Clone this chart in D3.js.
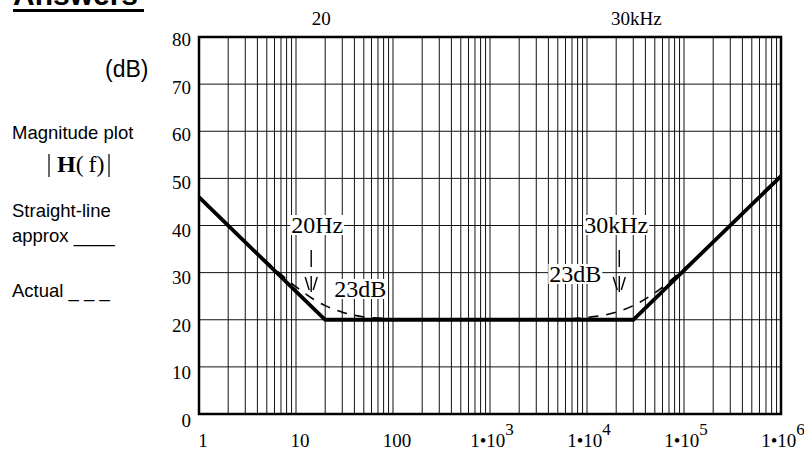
<!DOCTYPE html>
<html>
<head>
<meta charset="utf-8">
<script src="https://cdn.jsdelivr.net/npm/d3@7"></script>
<style>
    body { margin: 0; background: #fff; }
    svg { display: block; }
    .serif { font-family: "Liberation Serif", "Times New Roman", serif; fill: #000; }
    .sans { font-family: "Liberation Sans", Arial, sans-serif; fill: #000; }
</style>
</head>
<body>
<svg id="chart" width="804" height="451"></svg>
<script>
// straight-line (asymptotic) approximation, corners at 20 Hz and 30 kHz
const straightFreq = [1, 20, 30000, 1000000];
const straightDb = [46, 20, 20, 50.5];

// actual response
const actualFreq = [1, 2, 5, 10, 15, 20, 30, 50, 100, 300, 1000, 3000, 10000, 20000, 30000, 50000, 100000, 300000, 1000000];
const actualDb = [46, 40, 32.3, 27, 24.4, 23, 21.6, 20.6, 20.2, 20, 20, 20, 20.5, 21.6, 23, 25.7, 30.8, 40, 50.5];

const yTicks = [0, 10, 20, 30, 40, 50, 60, 70, 80];
const xLabelValues = [1, 10, 100, 1e3, 1e4, 1e5, 1e6];
const xLabelExp = [null, null, null, 3, 4, 5, 6];

const svg = d3.select('#chart');
const plotLeft = 199, plotRight = 781, plotTop = 37, plotBottom = 414;

const x = d3.scaleLog().domain([1, 1e6]).range([plotLeft, plotRight]);
const y = d3.scaleLinear().domain([0, 80]).range([plotBottom, plotTop]);

// grid
const grid = svg.append('g').attr('stroke', '#111').attr('stroke-width', 1);

grid.selectAll('.vgrid')
    .data(x.ticks())
    .enter()
    .append('line')
    .attr('x1', d => x(d)).attr('x2', d => x(d))
    .attr('y1', plotTop).attr('y2', plotBottom);

grid.selectAll('.hgrid')
    .data(yTicks)
    .enter()
    .append('line')
    .attr('x1', plotLeft).attr('x2', plotRight)
    .attr('y1', d => y(d)).attr('y2', d => y(d));

// frame
svg.append('rect')
    .attr('x', plotLeft).attr('y', plotTop)
    .attr('width', plotRight - plotLeft).attr('height', plotBottom - plotTop)
    .attr('fill', 'none')
    .attr('stroke', '#000')
    .attr('stroke-width', 2.5);

// y tick labels
svg.selectAll('.ylab')
    .data(yTicks)
    .enter()
    .append('text')
    .attr('class', 'serif')
    .attr('x', 191)
    .attr('y', d => y(d) + 9 + (80 - d) * 0.05)
    .attr('text-anchor', 'end')
    .attr('font-size', 19)
    .text(d => d);

// x tick labels
const xlab = svg.selectAll('.xlab')
    .data(xLabelValues)
    .enter()
    .append('text')
    .attr('class', 'serif')
    .attr('x', (d, i) => x(d) + (xLabelExp[i] === null ? 4 : 2))
    .attr('y', 447)
    .attr('text-anchor', 'middle')
    .attr('font-size', 19);

xlab.each(function (d, i) {
    const t = d3.select(this);
    if (xLabelExp[i] === null) {
        t.text(d);
    } else {
        t.append('tspan').text('1\u202210');
        t.append('tspan')
            .attr('font-size', 17)
            .attr('dy', -12)
            .text(xLabelExp[i]);
    }
});

// top labels at the corner frequencies
svg.append('text').attr('class', 'serif')
    .attr('x', x(20) - 4).attr('y', 25)
    .attr('text-anchor', 'middle').attr('font-size', 19)
    .text('20');
svg.append('text').attr('class', 'serif')
    .attr('x', x(30000) + 3).attr('y', 25)
    .attr('text-anchor', 'middle').attr('font-size', 19)
    .text('30kHz');

// curves
const actualLine = d3.line()
    .x(d => x(d[0]))
    .y(d => y(d[1]))
    .curve(d3.curveMonotoneX);

const straightLine = d3.line()
    .x(d => x(d[0]))
    .y(d => y(d[1]));

svg.append('path')
    .datum(actualFreq.map((f, i) => [f, actualDb[i]]))
    .attr('d', actualLine)
    .attr('fill', 'none')
    .attr('stroke', '#000')
    .attr('stroke-width', 1.6)
    .attr('stroke-dasharray', '10,8');

svg.append('path')
    .datum(straightFreq.map((f, i) => [f, straightDb[i]]))
    .attr('d', straightLine)
    .attr('fill', 'none')
    .attr('stroke', '#000')
    .attr('stroke-width', 3.8)
    .attr('stroke-linejoin', 'miter');

// annotation labels with white boxes behind them
function boxedLabel(cx, by, txt) {
    const g = svg.append('g');
    const t = g.append('text').attr('class', 'serif')
        .attr('x', cx).attr('y', by)
        .attr('text-anchor', 'middle')
        .attr('font-size', 24)
        .text(txt);
    const b = t.node().getBBox();
    g.insert('rect', 'text')
        .attr('x', b.x - 1).attr('y', b.y + 3)
        .attr('width', b.width + 2).attr('height', b.height - 6)
        .attr('fill', '#fff');
}

boxedLabel(x(20) - 8, 233, '20Hz');
boxedLabel(x(20) + 35, 297, '23dB');
boxedLabel(x(30000) - 17, 233, '30kHz');
boxedLabel(x(30000) - 58, 282, '23dB');

// little "\|/" arrows pointing at the 3 dB points
function arrow(cx) {
    const g = svg.append('g').attr('stroke', '#000').attr('stroke-width', 1.4);
    g.append('line').attr('x1', cx).attr('x2', cx).attr('y1', 250).attr('y2', 267);
    g.append('line').attr('x1', cx).attr('x2', cx).attr('y1', 276).attr('y2', 292);
    g.append('line').attr('x1', cx - 6).attr('x2', cx - 2).attr('y1', 277).attr('y2', 290);
    g.append('line').attr('x1', cx + 6).attr('x2', cx + 2).attr('y1', 277).attr('y2', 290);
}
arrow(x(20) - 14);
arrow(x(30000) - 14);

// left side texts
svg.append('text').attr('class', 'sans')
    .attr('x', 13).attr('y', 5)
    .attr('font-size', 30).attr('font-weight', 'bold')
    .text('Answers');
svg.append('rect')
    .attr('x', 13).attr('y', 9)
    .attr('width', 131).attr('height', 3)
    .attr('fill', '#000');

svg.append('text').attr('class', 'sans')
    .attr('x', 105).attr('y', 77)
    .attr('font-size', 23)
    .text('(dB)');

svg.append('text').attr('class', 'sans')
    .attr('x', 12).attr('y', 139)
    .attr('font-size', 18.5)
    .text('Magnitude plot');

// |H(f)|
const hf = svg.append('text').attr('class', 'serif')
    .attr('x', 57).attr('y', 172)
    .attr('font-size', 24);
hf.append('tspan').attr('font-weight', 'bold').text('H');
hf.append('tspan').text('(\u2009f)');
svg.append('line').attr('x1', 49).attr('x2', 49).attr('y1', 154).attr('y2', 177)
    .attr('stroke', '#000').attr('stroke-width', 1.2);
svg.append('line').attr('x1', 109).attr('x2', 109).attr('y1', 154).attr('y2', 177)
    .attr('stroke', '#000').attr('stroke-width', 1.2);

svg.append('text').attr('class', 'sans')
    .attr('x', 12).attr('y', 217)
    .attr('font-size', 18.5)
    .text('Straight-line');
svg.append('text').attr('class', 'sans')
    .attr('x', 12).attr('y', 242)
    .attr('font-size', 18.5)
    .text('approx ____');
svg.append('text').attr('class', 'sans')
    .attr('x', 12).attr('y', 297)
    .attr('font-size', 18.5)
    .text('Actual _ _ _');
</script>
</body>
</html>
